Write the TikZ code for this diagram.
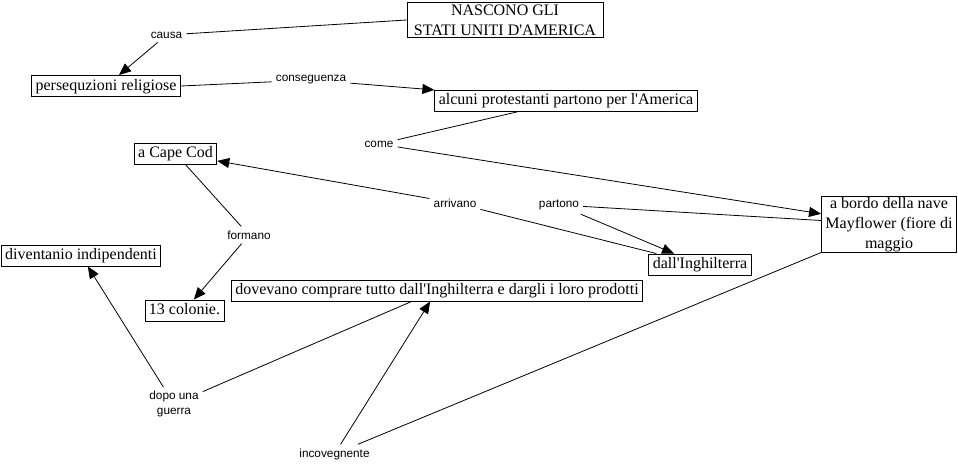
\documentclass[tikz,border=0pt]{standalone}
\usepackage{fontspec}
\setmainfont{Liberation Serif}
\newfontfamily\lblfont{Liberation Sans}
\usetikzlibrary{arrows.meta}
\newcommand{\ap}{\textquotesingle}
\begin{document}
\begin{tikzpicture}[x=1pt,y=-1pt,
  concept/.style={draw,line width=0.9pt,font=\fontsize{16}{20}\selectfont,inner xsep=4pt,inner ysep=3pt,text height=11.5pt,text depth=3.5pt},
  multi/.style={draw,line width=0.9pt,font=\fontsize{16}{20}\selectfont,inner xsep=4pt,inner ysep=1pt,align=center},
  lbl/.style={font=\lblfont\fontsize{11.8}{14.5}\selectfont,inner sep=4pt,align=center},
  link/.style={line width=0.8pt},
  arr/.style={line width=0.8pt,-{Triangle[length=12pt,width=10pt]}}]
\useasboundingbox (0,0) rectangle (958,464);
% concepts
\node[multi,inner xsep=7pt,inner ysep=2pt] (nascono) at (505,20) {NASCONO GLI\\STATI UNITI D\ap AMERICA};
\node[concept] (pers) at (106,86) {persequzioni religiose};
\node[concept] (alcuni) at (566,100.5) {alcuni protestanti partono per l\ap America};
\node[concept] (cape) at (175.5,153.5) {a Cape Cod};
\node[multi] (may) at (889,224.5) {a bordo della nave\\Mayflower (fiore di\\maggio};
\node[concept] (dall) at (700,264.5) {dall\ap Inghilterra};
\node[concept] (div) at (81,255.5) {diventanio indipendenti};
\node[concept] (dov) at (437,290.5) {dovevano comprare tutto dall\ap Inghilterra e dargli i loro prodotti};
\node[concept] (col) at (184.5,310.5) {13 colonie.};
% labels
\node[lbl] (causa) at (166.5,35) {causa};
\node[lbl] (cons) at (311,80) {conseguenza};
\node[lbl] (come) at (379,144) {come};
\node[lbl] (arr) at (455,203) {arrivano};
\node[lbl] (part) at (559,205) {partono};
\node[lbl] (form) at (249,235) {formano};
\node[lbl] (dopo) at (174,404) {dopo una\\guerra};
\node[lbl] (inco) at (334.5,454) {incovegnente};
% connectors
\draw[link] (nascono.west) -- (causa);
\draw[arr] (causa) -- (pers);
\draw[link] (pers.east) -- (cons);
\draw[arr] (cons) -- (alcuni);
\draw[link] (alcuni) -- (come);
\draw[arr] (come) -- (may);
\draw[link] (dall) -- (arr);
\draw[arr] (arr) -- (cape);
\draw[link] (may) -- (part);
\draw[arr] (part) -- (dall);
\draw[link] (cape) -- (form);
\draw[arr] (form) -- (col);
\draw[link] (dov) -- (dopo);
\draw[arr] (dopo) -- (div);
\draw[link] (may) -- (inco);
\draw[arr] (inco) -- (dov);
\end{tikzpicture}
\end{document}
